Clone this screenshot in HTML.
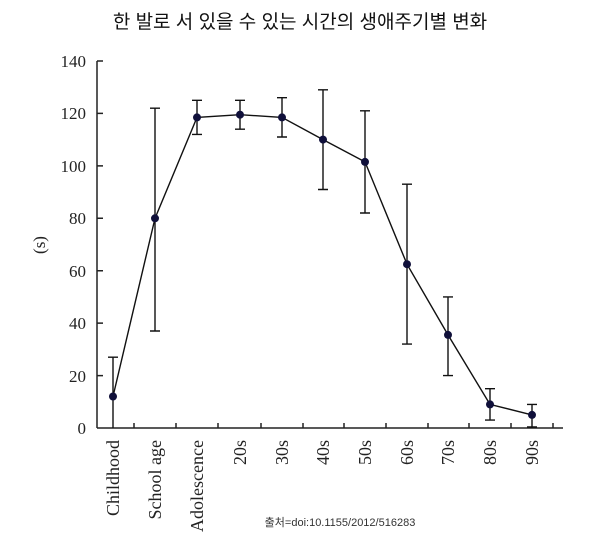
<!DOCTYPE html>
<html><head><meta charset="utf-8"><style>
body{margin:0;background:#fff;width:600px;height:538px;overflow:hidden}
</style></head><body>
<svg width="600" height="538" xmlns="http://www.w3.org/2000/svg">
<text x="300" y="28" text-anchor="middle" font-family="'Liberation Sans','Noto Sans CJK KR',sans-serif" font-size="19" fill="#111">한 발로 서 있을 수 있는 시간의 생애주기별 변화</text>
<g font-family="'Liberation Serif',serif" font-size="17" fill="#222" text-anchor="end">
<text x="86" y="434">0</text><text x="86" y="382">20</text><text x="86" y="329">40</text><text x="86" y="277">60</text><text x="86" y="224">80</text><text x="86" y="172">100</text><text x="86" y="119">120</text><text x="86" y="67">140</text>
</g>
<text transform="translate(45,245) rotate(-90)" font-family="'Liberation Serif',serif" font-size="17" text-anchor="middle" fill="#222">(s)</text>
<g stroke="#222" stroke-width="1.5" fill="none">
<line x1="97" y1="61" x2="97" y2="428"/>
<line x1="97" y1="428" x2="563" y2="428"/>
<path d="M97 61h6M97 113.4h6M97 165.9h6M97 218.3h6M97 270.7h6M97 323.1h6M97 375.6h6"/>
<path d="M134 428v-5M176 428v-5M218 428v-5M261 428v-5M303 428v-5M344 428v-5M386 428v-5M428 428v-5M469 428v-5M511 428v-5M553 428v-5"/>
</g>
<g stroke="#111" stroke-width="1.4" fill="none">
<path d="M113 428V357.2M108 357.2h10"/>
<path d="M155 331V108.2M150 331h10M150 108.2h10"/>
<path d="M197 134.4V100.3M192 134.4h10M192 100.3h10"/>
<path d="M240 129.2V100.3M235 129.2h10M235 100.3h10"/>
<path d="M282 137V97.7M277 137h10M277 97.7h10"/>
<path d="M323 189.5V89.8M318 189.5h10M318 89.8h10"/>
<path d="M365 213V110.8M360 213h10M360 110.8h10"/>
<path d="M407 344.1V184.2M402 344.1h10M402 184.2h10"/>
<path d="M448 375.6V296.9M443 375.6h10M443 296.9h10"/>
<path d="M490 420.1V388.7M485 420.1h10M485 388.7h10"/>
<path d="M532 428V404.4M527 404.4h10M527 427h10"/>
<path d="M113 396.5L155 218.3L197 117.4L240 114.7L282 117.4L323 139.6L365 161.9L407 264.2L448 334.9L490 404.4L532 414.9"/>
</g>
<g fill="#10103a">
<circle cx="113" cy="396.5" r="4"/><circle cx="155" cy="218.3" r="4"/><circle cx="197" cy="117.4" r="4"/><circle cx="240" cy="114.7" r="4"/><circle cx="282" cy="117.4" r="4"/><circle cx="323" cy="139.6" r="4"/><circle cx="365" cy="161.9" r="4"/><circle cx="407" cy="264.2" r="4"/><circle cx="448" cy="334.9" r="4"/><circle cx="490" cy="404.4" r="4"/><circle cx="532" cy="414.9" r="4"/>
</g>
<g font-family="'Liberation Serif',serif" font-size="18" fill="#222" text-anchor="end">
<text transform="translate(119,440) rotate(-90)">Childhood</text>
<text transform="translate(161,440) rotate(-90)">School age</text>
<text transform="translate(203,440) rotate(-90)">Adolescence</text>
<text transform="translate(246,440) rotate(-90)">20s</text>
<text transform="translate(288,440) rotate(-90)">30s</text>
<text transform="translate(329,440) rotate(-90)">40s</text>
<text transform="translate(371,440) rotate(-90)">50s</text>
<text transform="translate(413,440) rotate(-90)">60s</text>
<text transform="translate(454,440) rotate(-90)">70s</text>
<text transform="translate(496,440) rotate(-90)">80s</text>
<text transform="translate(538,440) rotate(-90)">90s</text>
</g>
<text x="340" y="526" text-anchor="middle" font-family="'Liberation Sans','Noto Sans CJK KR',sans-serif" font-size="11" fill="#333">출처=doi:10.1155/2012/516283</text>
</svg>
</body></html>
